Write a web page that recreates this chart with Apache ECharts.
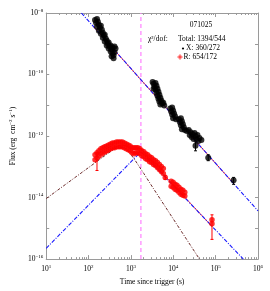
<!DOCTYPE html>
<html><head><meta charset="utf-8">
<script src="https://cdn.jsdelivr.net/npm/echarts@6/dist/echarts.min.js"></script>
<style>html,body{margin:0;padding:0;background:#fff}#c{width:270px;height:291px}</style>
</head><body><div id="c"></div>
<script>
// ---- X-ray data (time s, flux erg cm^-2 s^-1) ----
const xTime = [142,158,150,166,175,158,185,195,175,206,217,195,229,241,217,254,268,241,283,298,268,315,332,298,350,369,410,332,369,389,350,410,389,433,
  3251,3418,3800,3604,4007,3418,3800,4225,4007,4455,4225,4697,4455,4953,4697,5223,4953,5507,5807,6123,
  8440,9380,8900,9890,9380,10430,11000,9890,11600,
  13600,15130,14350,15950,15130,16820,17740,15950,18700,
  20800,23100,25700,24400,28600,31800,27100,33500,37200,35300,41500,39300,46100,30100,
  33500,66800,265000];
const xFlux = [5.97e-9,6.43e-9,4.79e-9,5.15e-9,4.13e-9,3.56e-9,3.31e-9,3.84e-9,2.65e-9,2.86e-9,2.29e-9,2.13e-9,1.84e-9,1.98e-9,1.58e-9,1.47e-9,1.27e-9,1.18e-9,1.02e-9,1.10e-9,8.79e-10,8.17e-10,8.79e-10,7.05e-10,6.55e-10,7.59e-10,8.17e-10,5.65e-10,4.88e-10,4.21e-10,3.91e-10,5.25e-10,3.37e-10,7.05e-10,
  5.75e-11,4.97e-11,5.35e-11,3.98e-11,4.29e-11,3.44e-11,3.19e-11,3.44e-11,2.56e-11,2.75e-11,2.05e-11,2.21e-11,1.64e-11,1.77e-11,1.32e-11,1.42e-11,1.06e-11,1.14e-11,1.22e-11,9.8e-12,
  7.87e-12,8.47e-12,6.31e-12,6.79e-12,5.06e-12,5.44e-12,4.37e-12,3.77e-12,3.5e-12,
  3.5e-12,3.77e-12,2.81e-12,3.02e-12,2.25e-12,2.42e-12,1.94e-12,1.67e-12,1.56e-12,
  1.45e-12,1.56e-12,1.34e-12,1.08e-12,1.16e-12,1.25e-12,9.3e-13,1.0e-12,1.08e-12,8.0e-13,8.6e-13,6.9e-13,7.4e-13,8.0e-13,
  4.8e-13,1.98e-13,3.63e-14];
const xErrTime = [33500, 66800, 265000];
const xErrLo = [3.31e-13, 1.58e-13, 2.70e-14];
const xErrHi = [6.43e-13, 2.47e-13, 4.53e-14];

// ---- R-band data ----
const rTime = [142,142,158,158,175,175,195,195,217,217,241,241,268,268,298,298,332,332,369,369,410,410,456,456,507,507,564,564,627,627,697,697,775,775,862,862,958,958,1065,1065,1184,1184,1317,1317,1464,1464,1627,1627,1809,1809,2011,2011,2236,2236,2487,2487,2765,2765,3074,3074,3418,3418,3800,3800,4225,4225,4697,4697,5223,5223,5807,5807,6456,
  8900,8900,9890,9890,11000,11000,12200,12200,13600,13600,15130,15130,16820,16820,18700,18700,
  82000,82000];
const rFlux = [2.47e-13,1.71e-13,2.86e-13,1.98e-13,3.31e-13,2.29e-13,3.84e-13,2.65e-13,4.13e-13,2.86e-13,4.45e-13,3.08e-13,4.79e-13,3.31e-13,5.15e-13,3.56e-13,5.55e-13,3.84e-13,5.97e-13,4.13e-13,5.97e-13,4.13e-13,6.43e-13,4.45e-13,6.43e-13,4.45e-13,6.43e-13,4.45e-13,6.43e-13,4.45e-13,5.97e-13,4.13e-13,5.55e-13,3.84e-13,5.15e-13,3.56e-13,4.79e-13,3.31e-13,4.13e-13,2.86e-13,4.13e-13,2.65e-13,4.13e-13,2.86e-13,4.13e-13,2.86e-13,3.84e-13,2.65e-13,3.31e-13,2.29e-13,3.08e-13,2.13e-13,2.65e-13,1.84e-13,2.47e-13,1.71e-13,2.13e-13,1.47e-13,1.98e-13,1.37e-13,1.71e-13,1.18e-13,1.58e-13,1.10e-13,1.37e-13,9.46e-14,1.18e-13,8.17e-14,1.02e-13,7.05e-14,8.79e-14,6.08e-14,4.53e-14,
  3.37e-14,2.33e-14,3.13e-14,2.17e-14,2.70e-14,1.87e-14,2.51e-14,1.74e-14,2.17e-14,1.50e-14,1.87e-14,1.29e-14,1.74e-14,1.20e-14,1.50e-14,1.12e-14,
  1.90e-15,1.42e-15];
const rErrTime = [158, 6456, 82000];
const rErrLo = [7.59e-14, 3.9e-14, 4.37e-16];
const rErrHi = [2.86e-13, 5.3e-14, 2.75e-15];

// ---- model curves ----
const xModelTime = [67.5, 1e6];
const xModelFlux = [1e-8, 3.7e-15];
const xTotalTime = [130, 2.7e5];
const xTotalFlux = [3.63e-9, 2.79e-14];
const rPowTime = [10, 1720, 4.5e5];
const rPowFlux = [2.25e-16, 3.1e-13, 1e-16];
const rBumpTime = [10, 241, 410, 564, 775, 1184, 2011, 3418, 41500];
const rBumpFlux = [9.3e-15, 2.29e-13, 3.84e-13, 4.45e-13, 3.84e-13, 1.84e-13, 6.08e-14, 1.94e-14, 1e-16];
const rTotalTime = [142, 241, 410, 564, 775, 1184, 1720, 2622, 5807, 82000];
const rTotalFlux = [1.44e-13, 2.49e-13, 4.25e-13, 5.1e-13, 4.84e-13, 3.66e-13, 3.95e-13, 1.95e-13, 5.8e-14, 1.15e-15];
const tBreak = 1720;

// ---- ticks ----
const xTicks = [10, 100, 1e3, 1e4, 1e5, 1e6];
const yTicks = [1e-16, 1e-15, 1e-14, 1e-13, 1e-12, 1e-11, 1e-10, 1e-9, 1e-8];
const yLabelVals = [1e-16, 1e-14, 1e-12, 1e-10, 1e-8];
const xMinor = [];
for (let d = 10; d < 1e6; d *= 10) for (let k = 2; k <= 9; k++) xMinor.push(d * k);

const FONT = 'Liberation Serif';
const zip = (a, b) => a.map((v, i) => [v, b[i]]);
const zip3 = (a, b, c) => a.map((v, i) => [v, b[i], c[i]]);
function powLabel(v) {
  const e = Math.round(Math.log10(v));
  return '{b|10}{s|' + (e < 0 ? '\u2212' + (-e) : e) + '}';
}
const richLab = {
  b: { fontFamily: FONT, fontSize: 7.5, color: '#000' },
  s: { fontFamily: FONT, fontSize: 5, color: '#000', padding: [0, 0, 5, 0] }
};
const FRAME = '#9a9a9a';
function xAx(pos, ticks, len, showLine, label) {
  return {
    type: 'log', logBase: 10, min: 10, max: 1e6, position: pos, gridIndex: 0,
    splitLine: { show: false }, minorTick: { show: false },
    axisLine: { show: showLine, lineStyle: { color: FRAME, width: 1 } },
    axisTick: { show: true, inside: true, length: len, customValues: ticks, lineStyle: { color: FRAME, width: 1 } },
    axisLabel: label ? { show: true, customValues: xTicks, formatter: powLabel, rich: richLab, margin: 5 } : { show: false }
  };
}
function errSeries(t, lo, hi, color) {
  return {
    type: 'custom', xAxisIndex: 0, yAxisIndex: 0, z: 3,
    data: zip3(t, lo, hi),
    encode: { x: 0, y: [1, 2] },
    renderItem: (params, api) => {
      const x = api.value(0);
      const p1 = api.coord([x, api.value(1)]);
      const p2 = api.coord([x, api.value(2)]);
      const st = { stroke: color, lineWidth: 1 };
      return { type: 'group', children: [
        { type: 'line', shape: { x1: p1[0], y1: p1[1], x2: p2[0], y2: p2[1] }, style: st },
        { type: 'line', shape: { x1: p1[0] - 1.5, y1: p1[1], x2: p1[0] + 1.5, y2: p1[1] }, style: st },
        { type: 'line', shape: { x1: p2[0] - 1.5, y1: p2[1], x2: p2[0] + 1.5, y2: p2[1] }, style: st }
      ] };
    }
  };
}
function lineS(t, f, color, type, width, z) {
  return { type: 'line', data: zip(t, f), symbol: 'none', silent: true, z: z,
    lineStyle: { color: color, type: type, width: width }, clip: true };
}

const chart = echarts.init(document.getElementById('c'), null, { renderer: 'canvas' });
chart.setOption({
  animation: false,
  backgroundColor: '#fff',
  grid: { left: 40, top: 13, right: 12, bottom: 28, containLabel: false },
  xAxis: [
    Object.assign(xAx('bottom', xTicks, 4, true, true), {
      name: 'Time since trigger (s)', nameLocation: 'middle', nameGap: 17,
      nameTextStyle: { fontFamily: FONT, fontSize: 7.5, color: '#000' }
    }),
    xAx('bottom', xMinor, 2, false, false),
    xAx('top', xTicks, 4, true, false),
    xAx('top', xMinor, 2, false, false)
  ],
  yAxis: [
    {
      type: 'log', logBase: 10, min: 1e-16, max: 1e-8, position: 'left',
      splitLine: { show: false }, minorTick: { show: false },
      axisLine: { show: true, lineStyle: { color: FRAME, width: 1 } },
      axisTick: { show: true, inside: true, length: 3, customValues: yTicks, lineStyle: { color: FRAME } },
      axisLabel: { show: true, customValues: yLabelVals, formatter: powLabel, rich: richLab, margin: 3 },
      name: '{a|Flux (erg  cm}{s|\u22122}{a| s}{s|\u22121}{a|)}', nameLocation: 'middle', nameGap: 22,
      nameTextStyle: { rich: {
        a: { fontFamily: FONT, fontSize: 7.5, color: '#000' },
        s: { fontFamily: FONT, fontSize: 5, color: '#000', padding: [0, 0, 5, 0] }
      } }
    },
    {
      type: 'log', logBase: 10, min: 1e-16, max: 1e-8, position: 'right',
      splitLine: { show: false }, minorTick: { show: false },
      axisLine: { show: true, lineStyle: { color: FRAME, width: 1 } },
      axisTick: { show: true, inside: true, length: 3, customValues: yTicks, lineStyle: { color: FRAME } },
      axisLabel: { show: false }
    }
  ],
  series: [
    lineS([tBreak, tBreak], [1e-16, 1e-8], '#ff80ff', [4, 3], 1.2, 1),
    lineS(xTotalTime, xTotalFlux, '#ff2020', 'solid', 0.9, 2),
    lineS(xModelTime, xModelFlux, '#1a1aff', [4, 1.5, 1, 1.5], 1.1, 2),
    lineS(rTotalTime, rTotalFlux, '#ff2020', 'solid', 0.9, 2),
    lineS(rPowTime, rPowFlux, '#1a1aff', [4, 1.5, 1, 1.5], 1.1, 2),
    lineS(rBumpTime, rBumpFlux, '#6b2a2a', [3, 1.5, 1, 1.5], 1, 2),
    errSeries(xErrTime, xErrLo, xErrHi, '#000'),
    errSeries(rErrTime, rErrLo, rErrHi, '#ff0000'),
    { type: 'scatter', data: zip(rTime, rFlux), symbol: 'circle', symbolSize: 5.5, z: 4,
      itemStyle: { color: '#ff0000' } },
    { type: 'scatter', data: zip(xTime, xFlux), symbol: 'circle', symbolSize: 6, z: 4,
      itemStyle: { color: '#000' } }
  ],
  graphic: [
    { type: 'text', x: 201, y: 25, style: { text: '071025', font: '7.5px "Liberation Serif"', fill: '#000', align: 'center', verticalAlign: 'middle' } },
    { type: 'text', x: 148, y: 39, style: { text: '\u03c7\u00b2/dof:', font: '7.5px "Liberation Serif"', fill: '#000', verticalAlign: 'middle' } },
    { type: 'text', x: 178, y: 39, style: { text: 'Total: 1394/544', font: '7.5px "Liberation Serif"', fill: '#000', verticalAlign: 'middle' } },
    { type: 'circle', shape: { cx: 183, cy: 48.5, r: 1.1 }, style: { fill: '#000' } },
    { type: 'text', x: 186, y: 48.5, style: { text: 'X: 360/272', font: '7.5px "Liberation Serif"', fill: '#000', verticalAlign: 'middle' } },
    { type: 'rect', shape: { x: 178.5, y: 55.5, width: 3, height: 3 }, style: { fill: '#ff3030' } },
    { type: 'line', shape: { x1: 177, y1: 57, x2: 183, y2: 57 }, style: { stroke: '#ff6060', lineWidth: 0.8 } },
    { type: 'line', shape: { x1: 180, y1: 54, x2: 180, y2: 60 }, style: { stroke: '#ff6060', lineWidth: 0.8 } },
    { type: 'text', x: 183.5, y: 57, style: { text: 'R: 654/172', font: '7.5px "Liberation Serif"', fill: '#000', verticalAlign: 'middle' } }
  ]
});
</script>
</body></html>
